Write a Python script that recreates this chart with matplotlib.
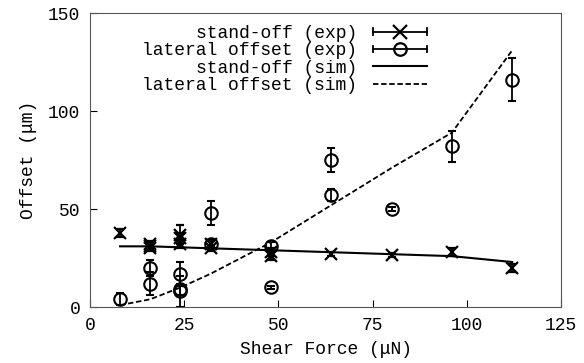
import numpy as np
import matplotlib.pyplot as plt
from matplotlib.legend_handler import HandlerBase
from matplotlib.lines import Line2D

plt.rcParams['font.family'] = ['Liberation Mono', 'DejaVu Sans Mono']

# experimental stand-off
x_so = [8, 16, 16, 16, 24, 24, 24, 32, 32, 48, 48, 64, 80, 96, 112]
y_so = [38, 30, 31, 32, 32, 35, 37, 30, 32, 26, 28, 27, 26.5, 28, 20]
e_so = [2, 1.5, 1.5, 1.5, 2, 3, 5, 1.5, 1.5, 2, 2, 1, 1, 2, 2]

# experimental lateral offset
x_lo = [8, 16, 16, 24, 24, 24, 32, 32, 48, 48, 64, 64, 80, 96, 112]
y_lo = [4, 20, 12, 17, 9, 8, 48, 32, 31, 10, 75, 57, 50, 82, 116]
e_lo = [3, 4, 6, 6, 3, 8, 6, 2, 2, 1, 6, 3, 1, 8, 11]

# simulation
x_sim = [8, 16, 24, 32, 48, 64, 80, 96, 112]
so_sim = [31, 31, 30.5, 30, 29, 28, 27, 26, 23]
lo_sim = [1, 4, 10, 17, 33, 52, 71, 89, 131]


class HandlerHErr(HandlerBase):
    # gnuplot style key: horizontal bar with end caps and the marker
    def create_artists(self, legend, orig, xd, yd, w, h, fs, trans):
        y = h / 2 - yd
        x0, x1 = -xd, w - xd
        c = h * 0.25
        arts = [Line2D([x0, x1], [y, y], color='k', lw=1.3),
                Line2D([x0, x0], [y - c, y + c], color='k', lw=1.3),
                Line2D([x1, x1], [y - c, y + c], color='k', lw=1.3),
                Line2D([(x0 + x1) / 2], [y], marker=orig.get_marker(), ms=orig.get_markersize(),
                       mfc='none', mec='k', mew=1.6, ls='none')]
        for a in arts:
            a.set_transform(trans)
        return arts


fig = plt.figure(figsize=(5.84, 3.63), dpi=100)
ax = fig.add_axes([0.154, 0.154, 0.807, 0.81])

ax.errorbar(x_so, y_so, yerr=e_so, fmt='x', c='k', ms=9, mew=1.6, capsize=3, elinewidth=1.3)
ax.errorbar(x_lo, y_lo, yerr=e_lo, fmt='o', c='k', mfc='none', ms=9, mew=1.5, capsize=3, elinewidth=1.3)
ax.plot(x_sim, so_sim, c='k', lw=1.5)
ax.plot(x_sim, lo_sim, c='k', lw=1.3, ls=(0, (3, 1.5)))

h1 = Line2D([], [], marker='x', ms=10)
h2 = Line2D([], [], marker='o', ms=9)
h3 = Line2D([], [], c='k', lw=1.5)
h4 = Line2D([], [], c='k', lw=1.3, ls=(0, (3, 1.5)))
ax.legend([h1, h2, h3, h4],
          ['stand-off (exp)', 'lateral offset (exp)', 'stand-off (sim)', 'lateral offset (sim)'],
          handler_map={h1: HandlerHErr(), h2: HandlerHErr()},
          loc='upper right', bbox_to_anchor=(0.716, 0.96), frameon=False, markerfirst=False,
          fontsize=13, handlelength=3.0, labelspacing=0.02, handletextpad=0.9,
          borderpad=0, borderaxespad=0)

ax.set_xlim(0, 125)
ax.set_ylim(0, 150)
ax.set_xticks([0, 25, 50, 75, 100, 125])
ax.set_yticks([0, 50, 100, 150])
ax.tick_params(direction='in', length=5, labelsize=13, pad=7)
ax.set_xlabel('Shear Force (μN)', fontsize=13, labelpad=5)
ax.set_ylabel('Offset (μm)', fontsize=13, labelpad=8)
for s in ax.spines.values():
    s.set_color('#555555')

plt.savefig('out.png', dpi=100)
